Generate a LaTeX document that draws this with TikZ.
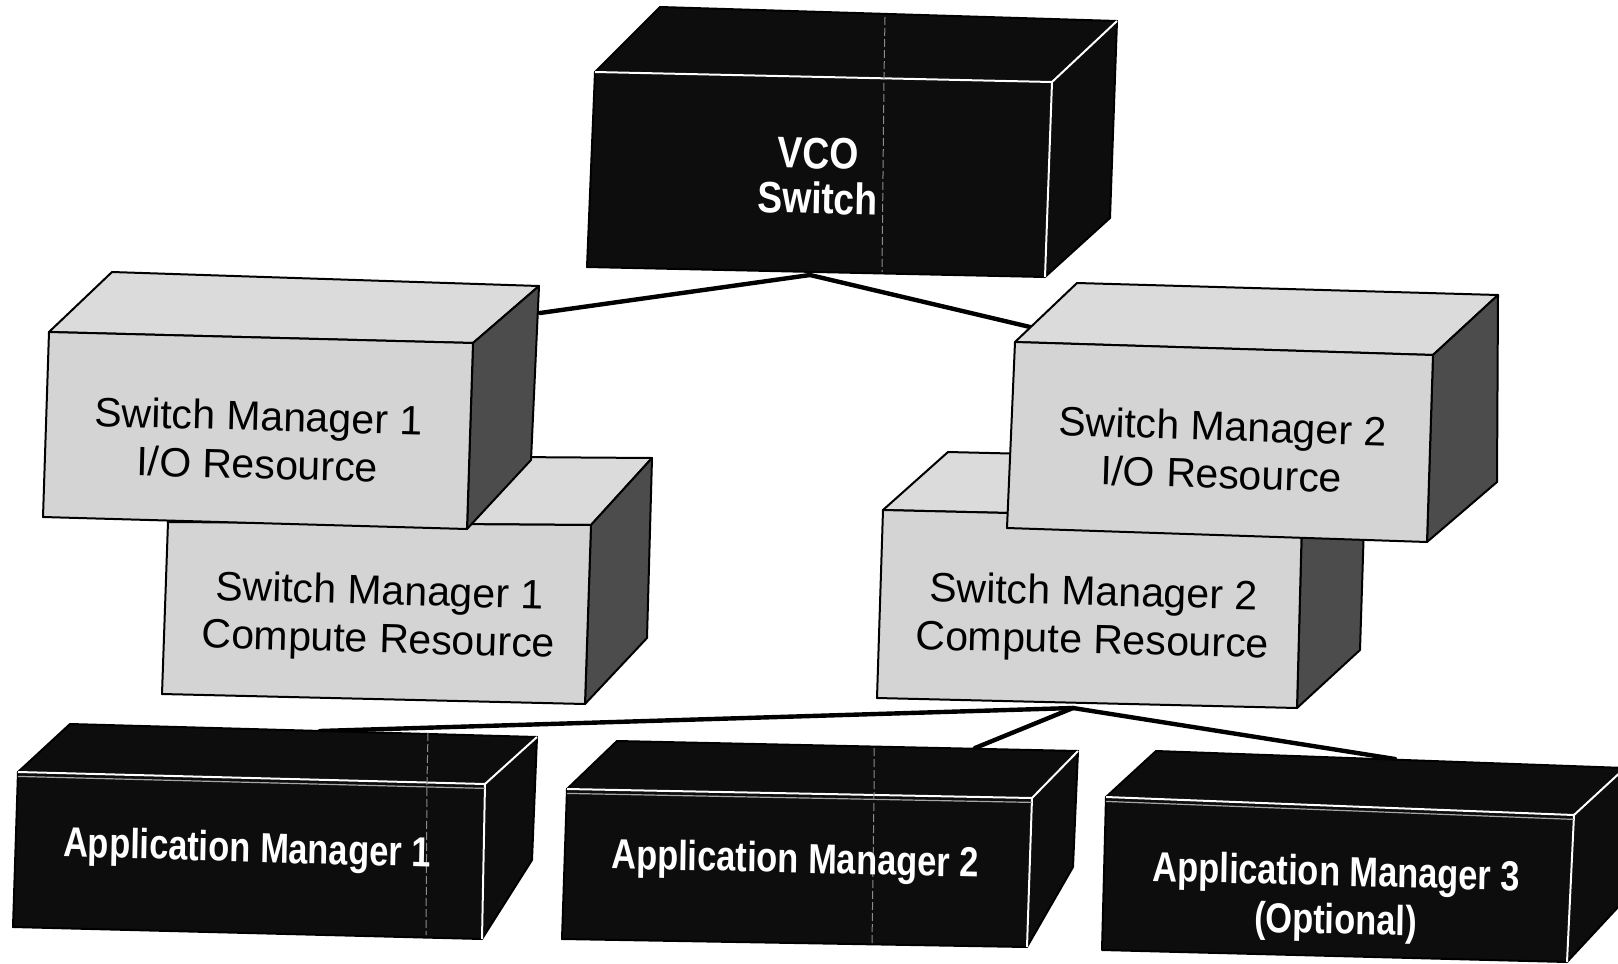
\documentclass[tikz,border=0pt]{standalone}
\usepackage{fontspec}
\setmainfont{Liberation Sans}

\definecolor{boxlight}{gray}{0.83}
\definecolor{boxlighttop}{gray}{0.86}
\definecolor{boxshade}{gray}{0.30}
\definecolor{boxdark}{gray}{0.05}
\definecolor{seam}{gray}{0.55}

\tikzset{
  lightface/.style={fill=boxlight, draw=black, line width=1pt, line join=round},
  lighttopface/.style={fill=boxlighttop, draw=black, line width=1pt, line join=round},
  lightsideface/.style={fill=boxshade, draw=black, line width=1pt, line join=round},
  darkface/.style={fill=boxdark, draw=black, line width=1pt, line join=round},
  whiteedge/.style={draw=white, line width=1pt},
  greyedge/.style={draw=gray!70, line width=0.6pt},
  seamline/.style={draw=seam, line width=0.5pt, dash pattern=on 4pt off 1.5pt},
  link/.style={draw=black, line width=2.2pt, line cap=round},
  smlabel/.style={text=black, align=center, inner sep=0pt,
    font=\fontsize{20.5}{24}\selectfont},
  amlabel/.style={text=white, align=center, inner sep=0pt, xscale=0.82,
    font=\fontsize{21}{24}\selectfont\bfseries},
  vcolabel/.style={text=white, align=center, inner sep=0pt, xscale=0.85,
    font=\fontsize{22}{22.5}\selectfont\bfseries},
}

% A box seen from above right.
% Arguments: front TL, front TR, front BR, front BL, back TL, back TR, back BR
\newcommand{\lightcuboid}[7]{%
  \path[lighttopface] (#1) -- (#5) -- (#6) -- (#2) -- cycle;
  \path[lightsideface] (#2) -- (#6) -- (#7) -- (#3) -- cycle;
  \path[lightface] (#1) -- (#2) -- (#3) -- (#4) -- cycle;
}
\newcommand{\darkcuboid}[7]{%
  \path[darkface] (#1) -- (#5) -- (#6) -- (#2) -- cycle;
  \path[darkface] (#2) -- (#6) -- (#7) -- (#3) -- cycle;
  \path[darkface] (#1) -- (#2) -- (#3) -- (#4) -- cycle;
  \draw[whiteedge] (#1) -- (#2) -- (#3);
  \draw[whiteedge] (#2) -- (#6);
}
% dark box with a doubled rim along the front top edge
\newcommand{\darkrimcuboid}[7]{%
  \darkcuboid{#1}{#2}{#3}{#4}{#5}{#6}{#7}%
  \draw[greyedge] ([yshift=-2.2pt]#1) -- ([yshift=-2.2pt]#2);
}

\begin{document}
\begin{tikzpicture}[x=0.5pt, y=-0.5pt]
\path[use as bounding box] (0,0) rectangle (1618,964);
\clip (0,0) rectangle (1618,964);
\fill[white] (0,0) rectangle (1618,964);

% attachment points of the links
\coordinate (vco-port) at (810,275);
\coordinate (sm1-port) at (540,313);
\coordinate (sm2-port) at (1030,327);
\coordinate (smc-port) at (1073,708);
\coordinate (am1-port) at (320,731);
\coordinate (am2-port) at (975,748);
\coordinate (am3-port) at (1395,759);

% links (drawn first, the boxes cover their ends)
\draw[link] (vco-port) -- (sm1-port);
\draw[link] (vco-port) -- (sm2-port);
\draw[link] (smc-port) -- (am1-port);
\draw[link] (smc-port) -- (am2-port);
\draw[link] (smc-port) -- (am3-port);

% VCO switch
\darkcuboid{595,72}{1052,82}{1045,277}{587,267}{660,7}{1117,21}{1110,218}
\draw[seamline] (885,17) -- (884,77) -- (882,272);

% switch manager 1
\lightcuboid{168,522}{591,525}{585,704}{162,694}{231,455}{652,458}{647,638}
\lightcuboid{49,332}{473,343}{467,529}{43,517}{112,272}{539,286}{531,460}

% switch manager 2
\lightcuboid{883,510}{1302,520}{1297,708}{877,698}{948,452}{1366,462}{1360,650}
\lightcuboid{1015,342}{1433,355}{1427,542}{1007,528}{1077,283}{1498,295}{1497,482}

% application managers
\darkrimcuboid{18,772}{485,784}{482,939}{13,927}{70,724}{537,737}{532,860}
\draw[seamline] (428,733) -- (427,782) -- (426,935);
\darkrimcuboid{567,789}{1032,798}{1027,947}{562,939}{617,741}{1078,751}{1073,867}
\draw[seamline] (874,748) -- (874,794) -- (872,945);
\darkrimcuboid{1106,797}{1574,815}{1567,962}{1102,950}{1156,751}{1625,768}{1620,905}

% labels
\node[vcolabel, rotate=-1.25] (vco) at (818,176) {VCO\\Switch};
\node[smlabel, rotate=-1.5] (sm1io) at (258,440) {Switch Manager 1\\I/O Resource};
\node[smlabel, rotate=-1.6] (sm1cr) at (379,618) {Switch Manager 1\\Compute Resource};
\node[smlabel, rotate=-1.8] (sm2io) at (1222,450) {Switch Manager 2\\I/O Resource};
\node[smlabel, rotate=-1.4] (sm2cr) at (1093,619) {Switch Manager 2\\Compute Resource};
\node[amlabel, rotate=-1.4] (am1) at (247,851) {Application Manager 1};
\node[amlabel, rotate=-1.1] (am2) at (795,862) {Application Manager 2};
\node[amlabel, rotate=-1.2] (am3) at (1336,899) {Application Manager 3\\(Optional)};
\end{tikzpicture}
\end{document}
